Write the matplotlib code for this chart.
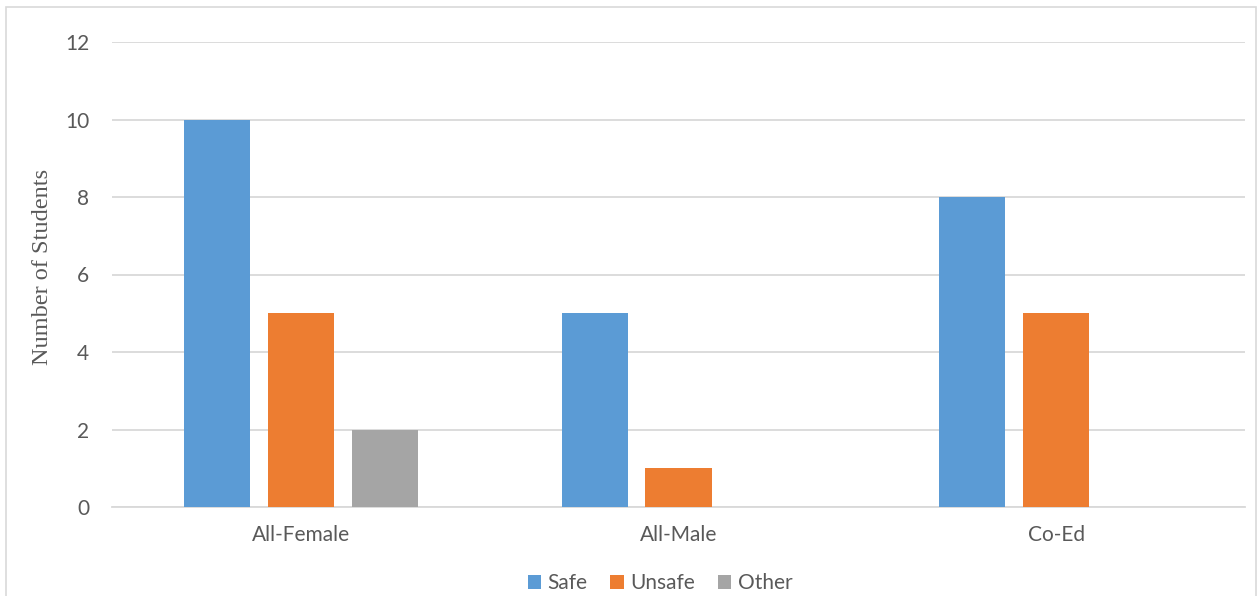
import numpy as np
import matplotlib.pyplot as plt
from matplotlib.patches import Rectangle

categories = ["All-Female", "All-Male", "Co-Ed"]
series = ["Safe", "Unsafe", "Other"]
safe = [10, 5, 8]
unsafe = [5, 1, 5]
other = [2, 0, 0]
yticks = [0, 2, 4, 6, 8, 10, 12]

colors = ["#5B9BD5", "#ED7D31", "#A5A5A5"]
text_color = "#595959"

plt.rcParams['font.family'] = ['Lato', 'DejaVu Sans']

fig = plt.figure(figsize=(12.59, 5.96), dpi=100)
ax = fig.add_axes([112 / 1259, 89 / 596, 1133 / 1259, 465 / 596])

# outer chart frame
fig.patches.append(Rectangle((6 / 1259, -0.05), 1250 / 1259, 1.05 - 7 / 596,
                             transform=fig.transFigure, fill=False,
                             edgecolor="#D9D9D9", linewidth=1.2))

x = np.arange(len(categories))
width = 0.175
step = 0.222
for i, (name, vals) in enumerate(zip(series, [safe, unsafe, other])):
    ax.bar(x + (i - 1) * step, vals, width, color=colors[i], label=name, zorder=3)

ax.set_xlim(-0.5, len(categories) - 0.5)
ax.set_ylim(0, 12)
ax.set_yticks(yticks)
ax.set_xticks(x)
ax.set_xticklabels(categories)
ax.yaxis.grid(True, color="#D9D9D9", linewidth=1.3, zorder=0)
ax.set_axisbelow(True)
for s in ["top", "right", "left"]:
    ax.spines[s].set_visible(False)
ax.spines["bottom"].set_color("#D9D9D9")
ax.spines["bottom"].set_linewidth(1.3)
ax.tick_params(axis="both", length=0, labelsize=15, colors=text_color)
ax.tick_params(axis="y", pad=16.5)
ax.tick_params(axis="x", pad=13)

fig.text(43 / 1259, 0.5 + 0.5 * (1 - 2 * 267 / 596), "Number of Students",
         rotation=90, va="center", ha="center", fontsize=17.5,
         family="Liberation Serif", color=text_color)

leg = fig.legend(loc="center", bbox_to_anchor=(660 / 1259, 1 - 583 / 596), ncol=3,
                 frameon=False, fontsize=15, handlelength=0.65, handleheight=0.65,
                 handletextpad=0.3, columnspacing=1.1, labelcolor=text_color)

fig.savefig("out.png", dpi=100)
